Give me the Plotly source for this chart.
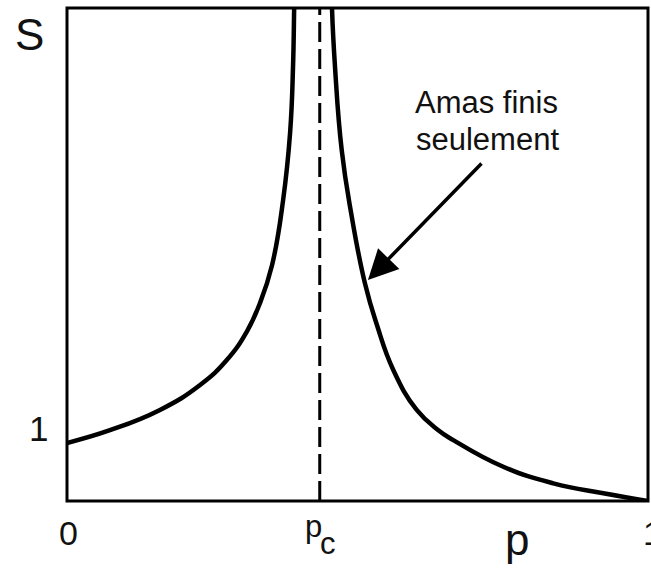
import plotly.graph_objects as go

# Mean finite-cluster size S(p) on either side of the percolation threshold
p_c = 0.435
s_max = 8.5

p_below = [0.0, 0.074, 0.160, 0.229, 0.275, 0.310, 0.332, 0.353, 0.372, 0.384, 0.389, 0.391, 0.392]
s_below = [1.0, 1.22, 1.57, 2.00, 2.43, 2.93, 3.41, 4.07, 5.19, 6.35, 7.48, 8.5, 9.0]

p_above = [0.4553, 0.4561, 0.4613, 0.4728, 0.4888, 0.5129, 0.5336, 0.5616, 0.6019,
           0.6391, 0.6649, 0.7509, 0.8370, 0.9231, 1.0]
s_above = [9.0, 8.5, 7.48, 6.05, 4.98, 3.75, 3.03, 2.26, 1.57,
           1.22, 1.05, 0.59, 0.305, 0.133, 0.0]

# Point on the upper branch that the annotation arrow designates
arrow_p, arrow_s = 0.518, 3.81

FONT = "Liberation Sans, Arial, Helvetica, sans-serif"
INK = "#111111"

fig = go.Figure()

# Threshold marker
fig.add_trace(go.Scatter(
    x=[p_c, p_c], y=[0, s_max], mode="lines",
    line=dict(color="black", width=3, dash="20px,7px"),
    hoverinfo="skip", showlegend=False,
))

for xs, ys in ((p_below, s_below), (p_above, s_above)):
    fig.add_trace(go.Scatter(
        x=xs, y=ys, mode="lines",
        line=dict(color="black", width=4.5, shape="spline", smoothing=1.3),
        hoverinfo="skip", showlegend=False,
    ))

def label(text, x, y, size):
    fig.add_annotation(
        text=text, x=x, y=y, xref="paper", yref="paper",
        xanchor="center", yanchor="middle", showarrow=False,
        font=dict(family=FONT, size=size, color=INK),
    )

label("S", -0.0654, 0.946, 44)
label("1", -0.049, 0.147, 35)
label("0", 0.0034, -0.065, 34)
label("p", 0.4243, -0.0527, 31)
label("c", 0.4500, -0.0872, 31)
label("p", 0.7737, -0.0783, 44)
label("1", 1.0083, -0.065, 34)
label("Amas finis", 0.7226, 0.8087, 31)
label("seulement", 0.7243, 0.7337, 31)

fig.add_annotation(
    x=arrow_p, y=arrow_s, xref="x", yref="y", text="",
    showarrow=True, ax=115, ay=-118,
    arrowhead=2, arrowsize=1.7, arrowwidth=3.5, arrowcolor="black",
)

# Frame around the plotting area
fig.add_shape(
    type="rect", xref="paper", yref="paper", x0=0, x1=1, y0=0, y1=1,
    line=dict(color="black", width=3), layer="above",
)

fig.update_xaxes(range=[0, 1], visible=False, fixedrange=True)
fig.update_yaxes(range=[0, s_max], visible=False, fixedrange=True)

fig.update_layout(
    width=651, height=569,
    margin=dict(l=67, r=3, t=8, b=68),
    paper_bgcolor="white", plot_bgcolor="white",
    showlegend=False,
)

fig.write_html("out.html")
